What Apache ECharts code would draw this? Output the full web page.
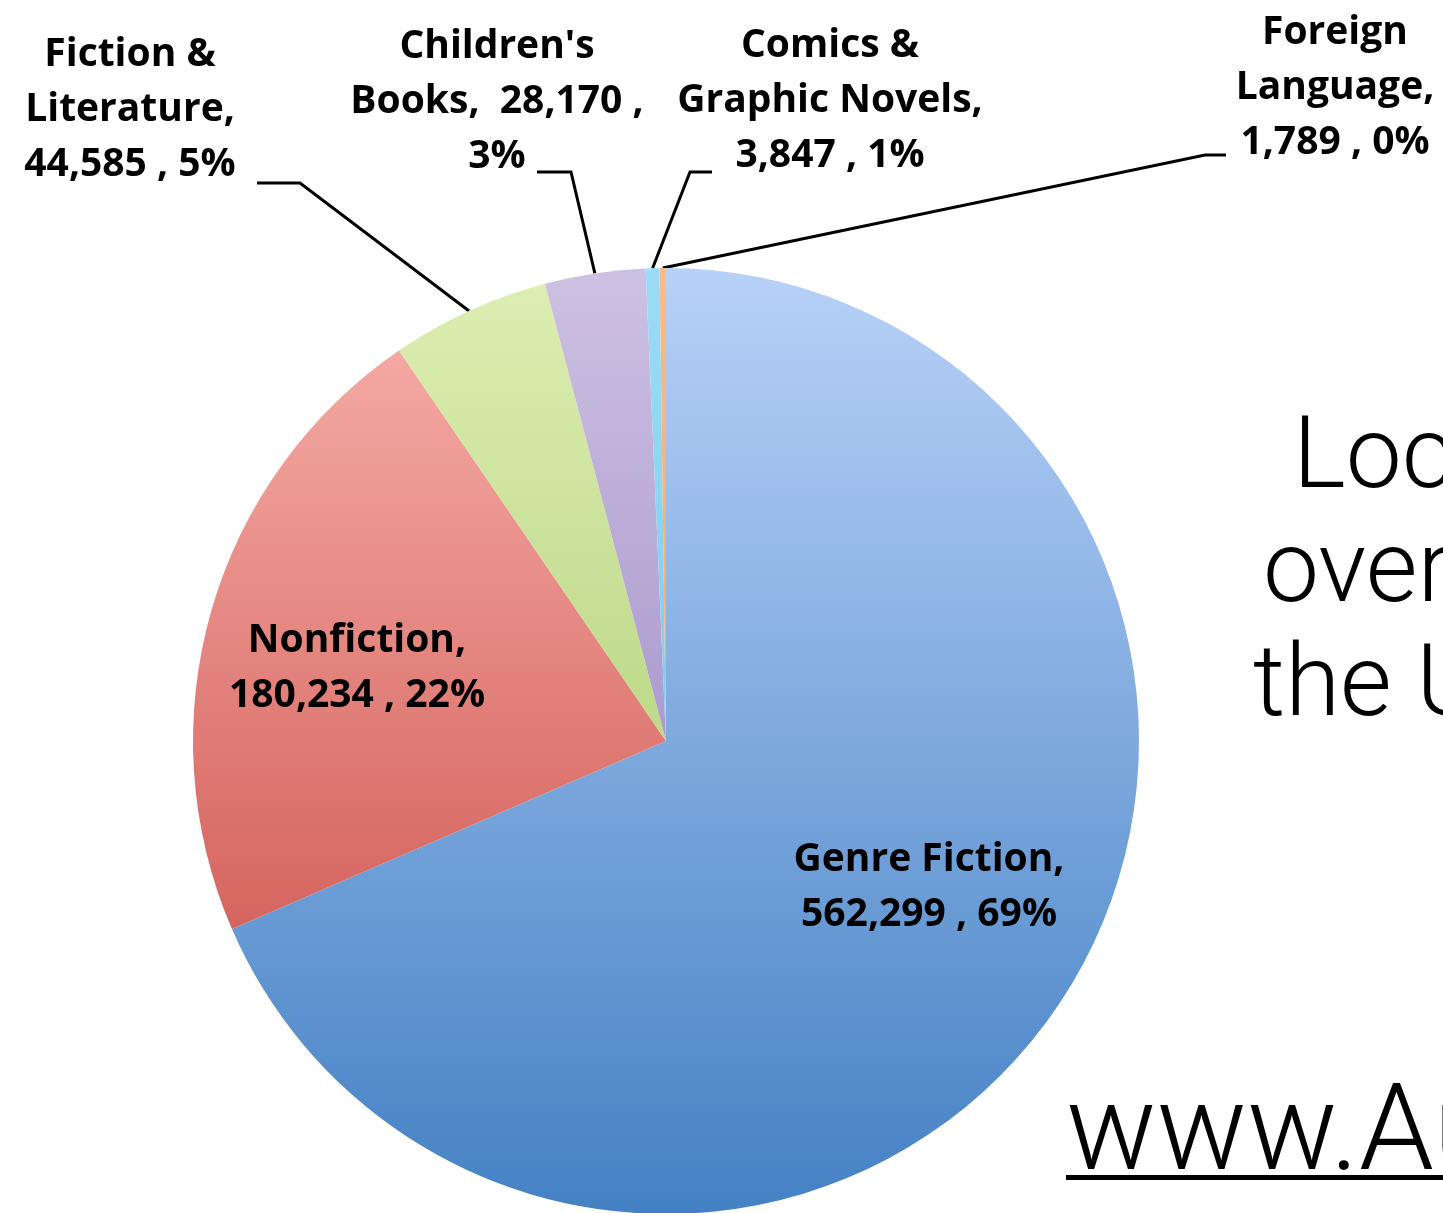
<!DOCTYPE html>
<html>
<head>
<meta charset="utf-8">
<script src="https://cdn.jsdelivr.net/npm/echarts@6/dist/echarts.min.js"></script>
<style>
  html, body { margin: 0; padding: 0; background: #fff; }
  #chart { width: 1443px; height: 1213px; }
</style>
</head>
<body>
<div id="chart"></div>
<script>
// Book titles by category (clockwise from 12 o'clock)
const categories = ['Genre Fiction', 'Nonfiction', 'Fiction &\nLiterature', "Children's\nBooks", 'Comics &\nGraphic Novels', 'Foreign\nLanguage'];
const titles = [562299, 180234, 44585, 28170, 3847, 1789];
const percents = [69, 22, 5, 3, 1, 0];

// how each label breaks after the name and after the count
const afterName = ['\n', '\n', '\n', '  ', '\n', '\n'];
const afterCount = [' , ', ' , ', ' , ', ' ,\n', ' , ', ' , '];

const sliceTop = ['#b8d1f8', '#f8b2ad', '#ddeeb3', '#cdc1e3', '#9cdcf4', '#f7bd8c'];
const sliceBottom = ['#4481c4', '#c7433d', '#9ec45e', '#8b74b9', '#5ec0e6', '#e8954f'];

const sideText = ['Loc', 'over', 'the U'];
const siteText = 'www.Au';

// where the labels sit, and the bends of their leader lines
const spots = [
  { x: 929, y: 887 },
  { x: 357, y: 668 },
  { x: 130, y: 110, elbow: [300, 183], end: [257, 183] },
  { x: 497, y: 102, elbow: [571, 172], end: [537, 172] },
  { x: 830, y: 101, elbow: [690, 172], end: [712, 172] },
  { x: 1335, y: 88, elbow: [1205, 155], end: [1226, 155] }
];

const leader = { color: '#000', width: 3 };

const chart = echarts.init(document.getElementById('chart'), null, { renderer: 'canvas' });

const pieData = categories.map((name, i) => ({
  name: name,
  value: titles[i],
  itemStyle: {
    color: new echarts.graphic.LinearGradient(0, 268, 0, 1214, [
      { offset: 0, color: sliceTop[i] },
      { offset: 1, color: sliceBottom[i] }
    ], true)
  },
  label: { position: i < 2 ? 'inside' : 'outside' },
  labelLine: { show: i >= 2, lineStyle: leader }
}));

const lightFont = 'Roboto';

chart.setOption({
  backgroundColor: '#fff',
  animation: false,
  series: [
    {
      type: 'pie',
      center: [666, 741],
      radius: [0, 473],
      startAngle: 90,
      clockwise: true,
      avoidLabelOverlap: false,
      data: pieData,
      itemStyle: { borderWidth: 0 },
      label: {
        show: true,
        color: '#000',
        fontFamily: 'Open Sans',
        fontWeight: 'bold',
        fontSize: 39,
        lineHeight: 55,
        align: 'center',
        formatter: p => p.name + ',' + afterName[p.dataIndex] +
          p.value.toLocaleString('en-US') + afterCount[p.dataIndex] +
          percents[p.dataIndex] + '%'
      },
      labelLine: {
        show: true,
        length: 20,
        length2: 20,
        lineStyle: leader
      },
      labelLayout: function (p) {
        const s = spots[p.dataIndex];
        const out = { x: s.x, y: s.y, align: 'center', verticalAlign: 'middle' };
        if (s.elbow && p.labelLinePoints) {
          out.labelLinePoints = [p.labelLinePoints[0], s.elbow, s.end];
        }
        return out;
      }
    }
  ],
  graphic: [
    { type: 'text', left: 1293, top: 412, style: { text: sideText[0], font: '300 100px ' + lightFont, fill: '#000' } },
    { type: 'text', left: 1263, top: 526, style: { text: sideText[1], font: '300 100px ' + lightFont, fill: '#000' } },
    { type: 'text', left: 1253, top: 640, style: { text: sideText[2], font: '300 100px ' + lightFont, fill: '#000' } },
    { type: 'text', left: 1066, top: 1079, style: { text: siteText, font: '300 120px ' + lightFont, fill: '#000' } },
    { type: 'rect', shape: { x: 1066, y: 1175, width: 377, height: 5 }, style: { fill: '#000' } }
  ]
});
</script>
</body>
</html>
